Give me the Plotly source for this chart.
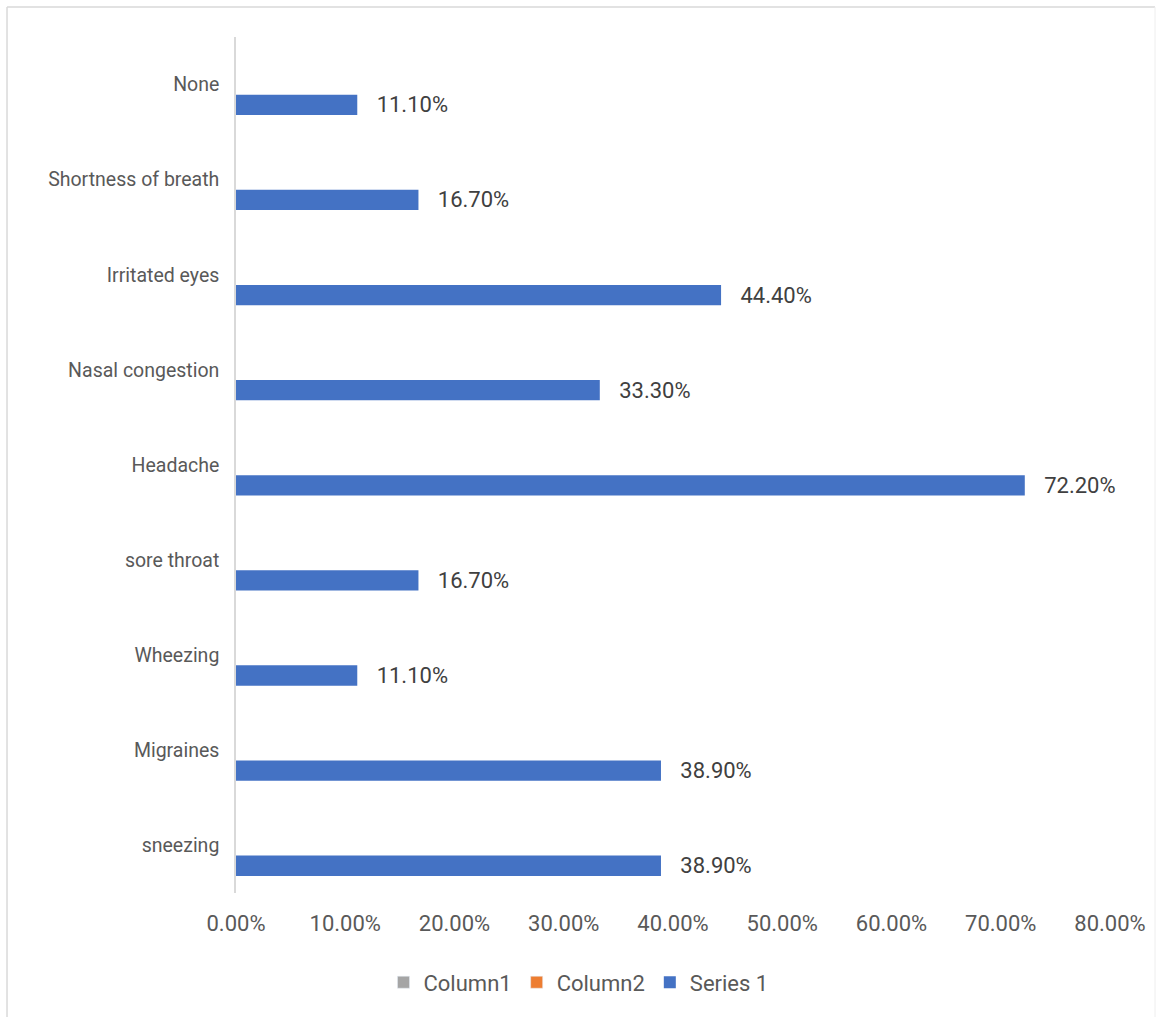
import plotly.graph_objects as go

categories = ["sneezing", "Migraines", "Wheezing", "sore throat", "Headache",
              "Nasal congestion", "Irritated eyes", "Shortness of breath", "None"]
series1 = [0.389, 0.389, 0.111, 0.167, 0.722, 0.333, 0.444, 0.167, 0.111]
column1 = [None] * len(categories)
column2 = [None] * len(categories)
x_ticks = [0, 0.1, 0.2, 0.3, 0.4, 0.5, 0.6, 0.7, 0.8]
x_tick_labels = ["0.00%", "10.00%", "20.00%", "30.00%", "40.00%",
                 "50.00%", "60.00%", "70.00%", "80.00%"]

FONT = "Roboto"
NB = "\u00a0"

fig = go.Figure()
fig.add_trace(go.Bar(
    y=categories, x=series1, orientation="h", name="Series 1",
    marker=dict(color="#4472C4", line=dict(width=0)),
    texttemplate=NB * 3 + "%{x:.2%}", textposition="outside",
    constraintext="none", cliponaxis=False,
    textfont=dict(family=FONT, size=22, color="#404040"),
    legendrank=3,
))
fig.add_trace(go.Bar(
    y=categories, x=column2, orientation="h", name="Column2",
    marker=dict(color="#ED7D31"), legendrank=2,
))
fig.add_trace(go.Bar(
    y=categories, x=column1, orientation="h", name="Column1",
    marker=dict(color="#A5A5A5"), legendrank=1,
))

fig.update_layout(
    width=1157, height=1017,
    margin=dict(l=236, r=47, t=37, b=124),
    paper_bgcolor="white", plot_bgcolor="white",
    barmode="group", bargap=0.36, bargroupgap=0,
    font=dict(family=FONT, size=21, color="#595959"),
    showlegend=True,
    legend=dict(orientation="h", xref="container", yref="container",
                x=0.5, xanchor="center", y=0.034, yanchor="middle",
                font=dict(family=FONT, size=22, color="#595959"),
                itemwidth=30),
    xaxis=dict(range=[0, 0.8], tickvals=x_ticks, ticktext=x_tick_labels,
               showgrid=False, zeroline=False, showline=False,
               ticks="", ticklabelstandoff=15,
               tickfont=dict(family=FONT, size=22, color="#595959")),
    yaxis=dict(categoryorder="array", categoryarray=categories,
               showgrid=False, zeroline=False, showline=True,
               linecolor="#D9D9D9", linewidth=1.5, ticks="",
               ticklabelstandoff=11,
               tickfont=dict(family=FONT, size=19.5, color="#595959")),
)

# chart border (light grey)
fig.add_shape(type="line", xref="paper", yref="paper",
              x0=-0.262, x1=1.0515, y0=1.035, y1=1.035,
              line=dict(color="#D9D9D9", width=1.5))
fig.add_shape(type="line", xref="paper", yref="paper",
              x0=-0.262, x1=-0.262, y0=1.035, y1=-0.16,
              line=dict(color="#D9D9D9", width=1.5))
fig.add_shape(type="line", xref="paper", yref="paper",
              x0=1.0515, x1=1.0515, y0=1.035, y1=-0.16,
              line=dict(color="#EEEEEE", width=1))

fig.write_html("out.html")
